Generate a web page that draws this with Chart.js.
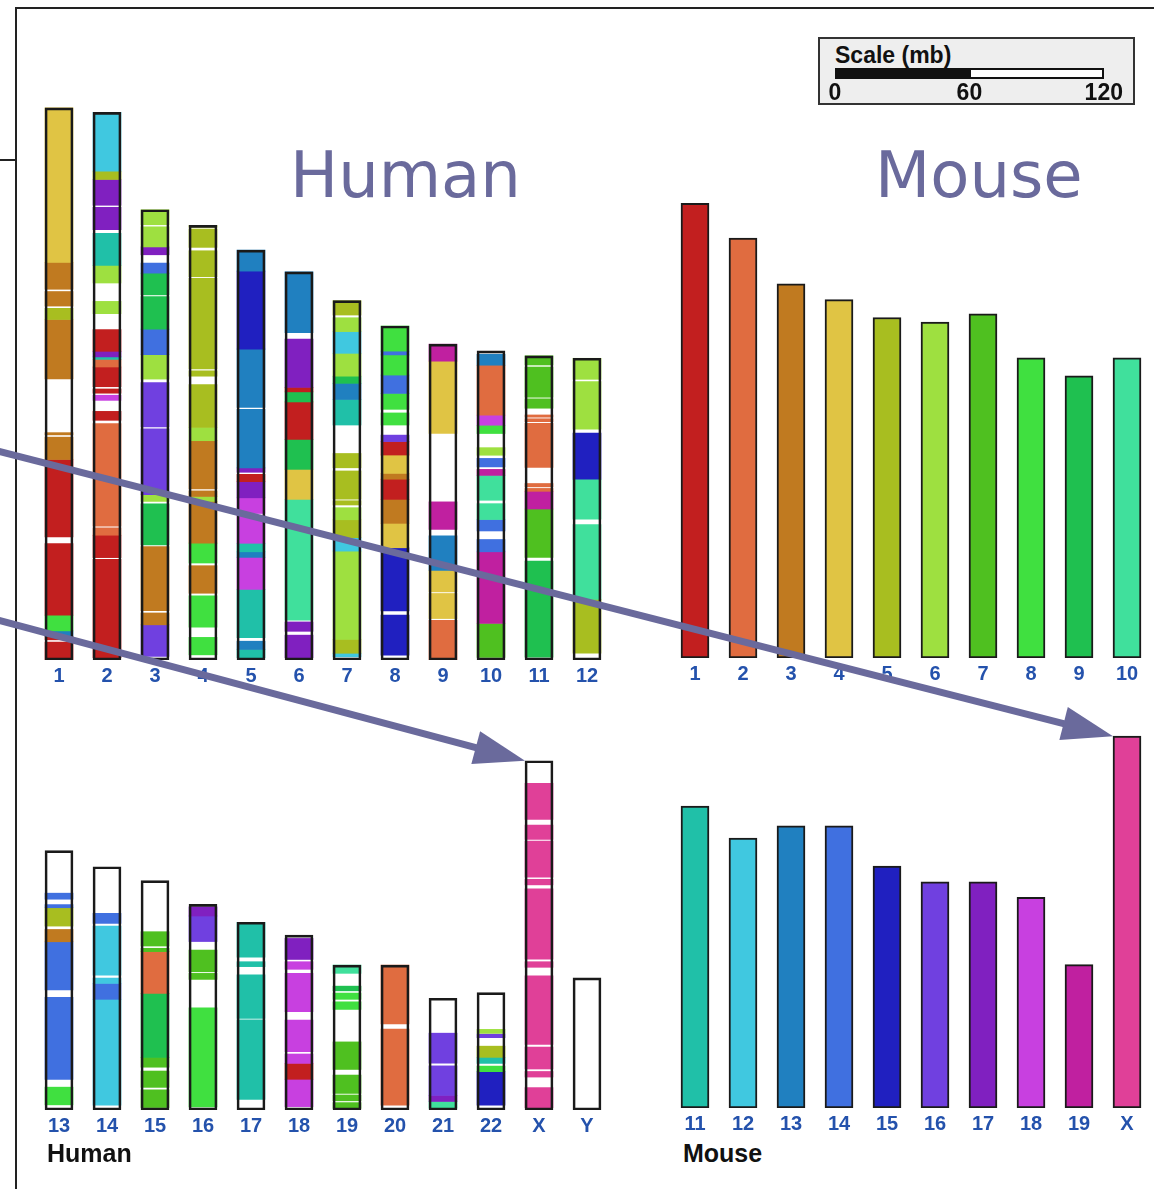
<!DOCTYPE html>
<html>
<head>
<meta charset="utf-8">
<script src="https://cdn.jsdelivr.net/npm/chart.js@4.4.1/dist/chart.umd.min.js"></script>
<style>
  html, body { margin: 0; padding: 0; background: #fff; }
  #page { position: relative; width: 1154px; height: 1189px; overflow: hidden; background: #fff; }
  #page canvas { position: absolute; }
  .big { position: absolute; font-family: 'DejaVu Sans', sans-serif; font-size: 64px; line-height: 1; color: #6a6a9c; white-space: nowrap; }
  .panel-name { position: absolute; font: bold 25px 'Liberation Sans', Arial, sans-serif; line-height: 1; color: #111; }
  .rule { position: absolute; background: #222; }
  #scaleBox { position: absolute; left: 818px; top: 37px; width: 317px; height: 68px; box-sizing: border-box;
              border: 2px solid #333; background: #eeeeee; }
  .scale-txt { position: absolute; font: bold 23px 'Liberation Sans', Arial, sans-serif; line-height: 1; color: #111; white-space: nowrap; }
  #humanTop { left: 35px; top: 100px; }
  #mouseTop { left: 671px; top: 98px; }
  #humanBottom { left: 35px; top: 718px; }
  #mouseBottom { left: 671px; top: 716px; }
  #arrows { left: 0; top: 0; z-index: 5; pointer-events: none; }
</style>
</head>
<body>
<div id="page">
  <div class="rule" style="left:16px;top:7px;width:1138px;height:2px"></div>
  <div class="rule" style="left:15px;top:7px;width:2px;height:1182px"></div>
  <div class="rule" style="left:0;top:159px;width:16px;height:2px"></div>

  <div id="scaleBox"></div>

  <div class="big" style="left:290px;top:143px">Human</div>
  <div class="big" style="left:875px;top:143px">Mouse</div>

  <canvas id="humanTop" width="576" height="590"></canvas>
  <canvas id="mouseTop" width="480" height="590"></canvas>
  <canvas id="humanBottom" width="576" height="422"></canvas>
  <canvas id="mouseBottom" width="480" height="422"></canvas>

  <div class="panel-name" style="left:47px;top:1141px">Human</div>
  <div class="panel-name" style="left:683px;top:1141px">Mouse</div>

  <canvas id="arrows" width="1154" height="1189"></canvas>
</div>
<script>
// mouse chromosome colours, used for the synteny blocks painted on human chromosomes
const MOUSE_COLORS = {
  '1': '#c21f1f', '2': '#e06c40', '3': '#c07a20', '4': '#e0c444', '5': '#a8be20',
  '6': '#9ee040', '7': '#4fc020', '8': '#40e040', '9': '#1fc050', '10': '#40e09c',
  '11': '#20c0a8', '12': '#40c8e0', '13': '#2080c0', '14': '#4070e0', '15': '#2020c0',
  '16': '#7040e0', '17': '#8020c0', '18': '#c840e0', '19': '#c020a0', 'X': '#e04098'
};

// chromosome names
const humanTopLabels = ['1', '2', '3', '4', '5', '6', '7', '8', '9', '10', '11', '12'];
const humanBottomLabels = ['13', '14', '15', '16', '17', '18', '19', '20', '21', '22', 'X', 'Y'];
const mouseTopLabels = ['1', '2', '3', '4', '5', '6', '7', '8', '9', '10'];
const mouseBottomLabels = ['11', '12', '13', '14', '15', '16', '17', '18', '19', 'X'];

// chromosome lengths (mb)
const humanTopLengths = [246.5, 244.5, 201, 194, 183, 173.3, 160.4, 149.1, 141, 138, 135.8, 134.7];
const humanBottomLengths = [115.8, 108.6, 102.4, 91.8, 83.8, 78.1, 64.7, 64.7, 49.9, 52.4, 155.9, 59];
const mouseTopLengths = [203, 187.5, 167, 160, 152, 150, 153.6, 134, 126, 134];
const mouseBottomLengths = [134.8, 120.5, 126, 126, 108, 101, 101, 94, 64, 166];

// conserved blocks on each human chromosome: [from mb, to mb, mouse chromosome], measured from the p end
const hs1 = [[0, 69, '4'], [69, 81, '3'], [82, 88.5, '3'], [89.5, 94.5, '5'], [94.5, 121, '3'], [145, 146, '3'],
  [147, 157, '3'], [157, 191.5, '1'], [194.5, 226.5, '1'], [226.5, 233.5, '8'], [233.5, 236, '13'],
  [236, 237.5, '1'], [238.5, 246.5, '1']];
const hs2 = [[0, 26.3, '12'], [26.3, 30, '5'], [30, 41.5, '17'], [42.4, 52.4, '17'], [54, 68.3, '11'],
  [68.3, 76.2, '6'], [84.4, 89.9, '6'], [97, 106.7, '1'], [106.7, 109.2, '17'], [109.2, 110.3, '11'],
  [110.3, 113.7, '2'], [113.7, 122.5, '1'], [123.5, 125.4, '1'], [126.3, 128.6, '18'], [133.5, 137.5, '1'],
  [139, 184.7, '2'], [185.5, 188.8, '2'], [188.8, 198.8, '1'], [199.6, 243.5, '1']];
const hs3 = [[0, 6.7, '6'], [7.6, 16.6, '6'], [16.6, 20.1, '17'], [23.8, 28.3, '14'], [28.3, 38, '9'],
  [38.8, 53.3, '9'], [53.3, 64.7, '14'], [64.7, 75.6, '6'], [77.1, 96.9, '16'], [97.8, 127.2, '16'],
  [127.2, 130.2, '6'], [131.3, 149.6, '9'], [150.4, 179, '3'], [180, 185.3, '3'], [185.3, 199.4, '16']];
const hs4 = [[0, 0.8, '5'], [1.6, 9.8, '5'], [11.3, 22.9, '5'], [23.6, 64.1, '5'], [64.9, 67.3, '5'],
  [71, 90.2, '5'], [90.2, 96.1, '6'], [96.1, 117.6, '3'], [118.5, 121, '3'], [121, 123.2, '6'],
  [123.2, 141.8, '3'], [141.8, 150.7, '8'], [151.9, 164.2, '3'], [165.4, 179.3, '8'], [183.9, 191.7, '8']];
const hs5 = [[0, 9.4, '13'], [9.4, 44.2, '15'], [44.2, 70.2, '13'], [71.1, 97.2, '13'], [97.2, 99.2, '17'],
  [100.1, 103.4, '1'], [103.4, 110.6, '17'], [110.6, 117.6, '18'], [118.3, 130.9, '18'], [130.9, 134.7, '11'],
  [134.7, 137.2, '13'], [137.2, 151.5, '18'], [151.5, 173, '11'], [174.6, 178.3, '13'], [178.3, 182, '11']];
const hs6 = [[0, 27.2, '13'], [30, 51.6, '17'], [51.6, 53.6, '1'], [53.6, 58.1, '9'], [58.1, 74.8, '1'],
  [74.8, 88.2, '9'], [88.2, 101.6, '4'], [101.6, 155.5, '10'], [156.3, 160.5, '17'], [162.2, 172.3, '17']];
const hs7 = [[0, 6.4, '5'], [7.6, 13.8, '6'], [13.8, 23.5, '12'], [23.5, 33.7, '6'], [33.7, 36.9, '9'],
  [36.9, 44.1, '13'], [44.1, 55.5, '11'], [68.2, 74.6, '5'], [76, 88.6, '5'], [89.3, 91.2, '5'],
  [92.4, 97.8, '6'], [97.8, 105.8, '5'], [105.8, 111.8, '12'], [111.8, 151.2, '6'], [151.2, 157.4, '5'],
  [157.4, 159, '12']];
const hs8 = [[0, 11.2, '8'], [11.2, 12.9, '14'], [12.9, 21.9, '8'], [21.9, 30.1, '14'], [30.1, 37.2, '8'],
  [38.8, 44.2, '8'], [48.7, 51.6, '16'], [51.6, 57.6, '1'], [57.6, 65.8, '4'], [65.8, 68.4, '3'],
  [68.4, 77.4, '1'], [77.4, 88.1, '3'], [88.1, 99, '4'], [99, 127.2, '15'], [129, 146.9, '15']];
const hs9 = [[0, 7.6, '19'], [7.6, 39.9, '4'], [70.4, 82.7, '19'], [85.6, 101, '13'], [101, 110.6, '4'],
  [111.3, 122.5, '4'], [123.3, 141, '2']];
const hs10 = [[1.5, 6.4, '13'], [6.4, 28.7, '2'], [28.7, 33.2, '18'], [33.2, 36.9, '8'], [43.2, 46.6, '6'],
  [48, 51.8, '14'], [52.9, 55.6, '19'], [55.6, 66.7, '10'], [68.2, 75.3, '10'], [75.3, 80.4, '14'],
  [84.2, 89.7, '14'], [89.7, 121.7, '19'], [121.7, 136.9, '7']];
const hs11 = [[0, 4.1, '7'], [5, 18.5, '7'], [19.2, 23.4, '7'], [26.4, 27.4, '2'], [28.1, 29.4, '2'],
  [30.1, 49.8, '2'], [57, 58.5, '2'], [59.2, 60.5, '2'], [60.5, 68.4, '19'], [68.4, 90, '7'], [91.6, 134.5, '9']];
const hs12 = [[0, 9.4, '6'], [10.4, 31.6, '6'], [33.4, 54, '15'], [54, 71.8, '10'], [74.3, 107.6, '10'],
  [107.6, 131.7, '5']];
const hs13 = [[19, 21.7, '14'], [24.1, 25.5, '14'], [25.5, 33.7, '5'], [35.2, 40.7, '3'], [40.7, 62.2, '14'],
  [65.5, 102.1, '14'], [105.6, 113.5, '8']];
const hs14 = [[20.8, 25.3, '14'], [26.5, 48.4, '12'], [49.7, 52.1, '12'], [52.1, 59.2, '14'], [59.2, 106.4, '12']];
const hs15 = [[22.8, 29.2, '7'], [30.2, 31.7, '7'], [31.7, 50.3, '2'], [50.3, 78.9, '9'], [78.9, 83.3, '7'],
  [85, 92.3, '7'], [93.4, 101.3, '7']];
const hs16 = [[1.1, 5.2, '17'], [5.2, 16.6, '16'], [20.4, 30.1, '7'], [30.8, 33.5, '7'], [46.2, 90.4, '8']];
const hs17 = [[0, 15.6, '11'], [17.6, 19.8, '11'], [23.5, 42.9, '11'], [43.6, 79.1, '11']];
const hs18 = [[1.5, 10.9, '17'], [11.9, 15.3, '18'], [17.1, 34.2, '18'], [38, 52.1, '18'], [53.1, 57.3, '18'],
  [57.3, 64.4, '1'], [64.4, 76.6, '18']];
const hs19 = [[0, 3.7, '10'], [9.4, 11.5, '9'], [12.5, 15.3, '8'], [16.4, 19.8, '8'], [34.3, 46.6, '7'],
  [49.1, 57.3, '7'], [58, 60.6, '7'], [61.4, 64, '7']];
const hs20 = [[0, 26.3, '2'], [28.6, 62.5, '2']];
const hs21 = [[15.6, 29, '16'], [30.2, 43.4, '16'], [43.4, 46.1, '17'], [46.1, 49.1, '10']];
const hs22 = [[16.4, 18.2, '6'], [18.5, 20.1, '16'], [23.9, 28.9, '5'], [28.9, 31.6, '11'], [32.8, 35.3, '8'],
  [35.3, 50.2, '15']];
const hsX = [[10.1, 26.2, 'X'], [28.7, 35.1, 'X'], [35.8, 52, 'X'], [52.9, 55.4, 'X'], [57.2, 88.6, 'X'],
  [89.7, 92.2, 'X'], [96, 126.6, 'X'], [127.8, 137.6, 'X'], [138.7, 141.2, 'X'], [145.9, 154.9, 'X']];
const hsY = [];

const humanTopBlocks = [hs1, hs2, hs3, hs4, hs5, hs6, hs7, hs8, hs9, hs10, hs11, hs12];
const humanBottomBlocks = [hs13, hs14, hs15, hs16, hs17, hs18, hs19, hs20, hs21, hs22, hsX, hsY];

const scaleTicks = [0, 60, 120];

const PX_PER_MB = 2.24;
const TOP_MAX = 250;
const BOTTOM_MAX = 175;
const OUTLINE = '#1a1a1a';
const LABEL_BLUE = '#2452ac';
const ARROW_COLOR = '#6a6a9c';

function baseOptions(yMax) {
  return {
    responsive: false,
    animation: false,
    devicePixelRatio: 1,
    layout: { padding: 0 },
    datasets: { bar: { grouped: false, barThickness: 28 } },
    plugins: { legend: { display: false }, tooltip: { enabled: false } },
    scales: {
      x: {
        offset: true,
        grid: { display: false, drawTicks: false },
        border: { display: false },
        ticks: {
          color: LABEL_BLUE, padding: 4, maxRotation: 0, autoSkip: false,
          font: { family: "'Liberation Sans', Arial, sans-serif", size: 20, weight: 'bold' }
        },
        afterFit: s => { s.height = 30; }
      },
      y: { display: false, min: 0, max: yMax }
    }
  };
}

// human chromosomes: white body, coloured blocks, black outline on top
function humanChart(id, labels, lengths, blocks, yMax) {
  const maxBlocks = Math.max(...blocks.map(b => b.length));
  const datasets = [{
    data: lengths, backgroundColor: 'rgba(0,0,0,0)', borderColor: OUTLINE,
    borderWidth: 2, borderSkipped: false, order: 0
  }];
  for (let k = 0; k < maxBlocks; k++) {
    datasets.push({
      data: blocks.map((b, i) => b[k] ? [lengths[i] - b[k][1], lengths[i] - b[k][0]] : null),
      backgroundColor: blocks.map(b => b[k] ? MOUSE_COLORS[b[k][2]] : 'rgba(0,0,0,0)'),
      borderWidth: 0, order: 1
    });
  }
  datasets.push({ data: lengths, backgroundColor: '#ffffff', borderWidth: 0, order: 2 });
  return new Chart(document.getElementById(id), {
    type: 'bar', data: { labels, datasets }, options: baseOptions(yMax)
  });
}

function mouseChart(id, labels, lengths, yMax) {
  return new Chart(document.getElementById(id), {
    type: 'bar',
    data: {
      labels,
      datasets: [{
        data: lengths,
        backgroundColor: labels.map(l => MOUSE_COLORS[l]),
        borderColor: OUTLINE, borderWidth: 2, borderSkipped: false
      }]
    },
    options: baseOptions(yMax)
  });
}

const humanTop = humanChart('humanTop', humanTopLabels, humanTopLengths, humanTopBlocks, TOP_MAX);
const mouseTop = mouseChart('mouseTop', mouseTopLabels, mouseTopLengths, TOP_MAX);
const humanBottom = humanChart('humanBottom', humanBottomLabels, humanBottomLengths, humanBottomBlocks, BOTTOM_MAX);
const mouseBottom = mouseChart('mouseBottom', mouseBottomLabels, mouseBottomLengths, BOTTOM_MAX);

// scale bar
(function () {
  const page = document.getElementById('page');
  const x0 = 835, barTop = 68;
  const title = document.createElement('div');
  title.className = 'scale-txt';
  title.style.left = x0 + 'px';
  title.style.top = '44px';
  title.textContent = 'Scale (mb)';
  page.appendChild(title);
  const full = scaleTicks[scaleTicks.length - 1] * PX_PER_MB;
  const half = scaleTicks[1] * PX_PER_MB;
  const bar = document.createElement('div');
  bar.style.cssText = `position:absolute;left:${x0}px;top:${barTop}px;width:${full}px;height:11px;` +
    `box-sizing:border-box;border:2px solid #111;background:linear-gradient(to right,#111 ${half}px,#fff ${half}px)`;
  page.appendChild(bar);
  scaleTicks.forEach(v => {
    const t = document.createElement('div');
    t.className = 'scale-txt';
    t.style.left = (x0 + v * PX_PER_MB) + 'px';
    t.style.top = '81px';
    t.style.transform = 'translateX(-50%)';
    t.textContent = String(v);
    page.appendChild(t);
  });
})();

// arrows pointing at the X chromosomes
(function () {
  const ctx = document.getElementById('arrows').getContext('2d');
  function barCorner(chart, canvasId, dsIndex, idx) {
    const el = chart.getDatasetMeta(dsIndex).data[idx];
    const c = document.getElementById(canvasId);
    return [c.offsetLeft + el.x - el.width / 2, c.offsetTop + el.y];
  }
  function arrow(x0, y0, x1, y1) {
    const a = Math.atan2(y1 - y0, x1 - x0);
    const head = 51, half = 17;
    const bx = x1 - head * Math.cos(a), by = y1 - head * Math.sin(a);
    ctx.strokeStyle = ARROW_COLOR;
    ctx.fillStyle = ARROW_COLOR;
    ctx.lineWidth = 7;
    ctx.beginPath();
    ctx.moveTo(x0, y0);
    ctx.lineTo(bx + 4 * Math.cos(a), by + 4 * Math.sin(a));
    ctx.stroke();
    ctx.beginPath();
    ctx.moveTo(x1, y1);
    ctx.lineTo(bx - half * Math.sin(a), by + half * Math.cos(a));
    ctx.lineTo(bx + half * Math.sin(a), by - half * Math.cos(a));
    ctx.closePath();
    ctx.fill();
  }
  const mx = barCorner(mouseBottom, 'mouseBottom', 0, mouseBottomLabels.indexOf('X'));
  const hx = barCorner(humanBottom, 'humanBottom', 0, humanBottomLabels.indexOf('X'));
  arrow(-10, 449, mx[0], mx[1]);
  arrow(-10, 618, hx[0], hx[1]);
})();
</script>
</body>
</html>
